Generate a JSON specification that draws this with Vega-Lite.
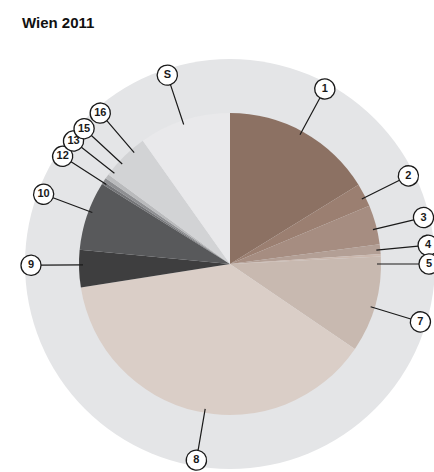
{
  "$schema": "https://vega.github.io/schema/vega-lite/v6.json",
  "width": 408,
  "height": 416,
  "autosize": {"type": "none"},
  "padding": {"left": 26, "top": 56, "right": 0, "bottom": 0},
  "background": "#ffffff",
  "config": {"view": {"stroke": null}},
  "title": {
    "text": "Wien 2011",
    "anchor": "start",
    "frame": "group",
    "font": "Liberation Sans",
    "fontSize": 15,
    "fontWeight": "bold",
    "color": "#111111",
    "offset": 25,
    "dx": -4
  },
  "datasets": {
    "slices": [
      {"id": "1", "ord": 1, "value": 16.2, "lab": 7.9},
      {"id": "2", "ord": 2, "value": 2.5, "lab": 17.7},
      {"id": "3", "ord": 3, "value": 4.2, "lab": 21.25},
      {"id": "4", "ord": 4, "value": 1.05, "lab": 23.5},
      {"id": "5", "ord": 5, "value": 0.25, "lab": 25.0},
      {"id": "7", "ord": 7, "value": 10.3, "lab": 29.7},
      {"id": "8", "ord": 8, "value": 38.0, "lab": 52.7},
      {"id": "9", "ord": 9, "value": 4.0, "lab": 74.9},
      {"id": "10", "ord": 10, "value": 7.4, "lab": 80.7},
      {"id": "12", "ord": 12, "value": 0.3, "lab": 84.1},
      {"id": "13", "ord": 13, "value": 0.4, "lab": 85.6},
      {"id": "15", "ord": 15, "value": 0.5, "lab": 86.9},
      {"id": "16", "ord": 16, "value": 5.1, "lab": 88.7},
      {"id": "S", "ord": 17, "value": 9.8, "lab": 94.9}
    ]
  },
  "layer": [
    {
      "data": {"values": [{"ring": "background"}]},
      "mark": {"type": "arc", "outerRadius": 205, "theta": 0, "theta2": 6.2832, "fill": "#e4e5e7"},
      "encoding": {}
    },
    {
      "data": {"name": "slices"},
      "mark": {"type": "arc", "outerRadius": 151},
      "encoding": {
        "theta": {"field": "value", "type": "quantitative", "stack": true, "scale": {"domain": [0, 100], "nice": false}},
        "order": {"field": "ord", "type": "quantitative"},
        "color": {
          "field": "id", "type": "nominal", "legend": null,
          "scale": {
            "domain": ["1", "2", "3", "4", "5", "7", "8", "9", "10", "12", "13", "15", "16", "S"],
            "range": ["#8c7163", "#9b7f71", "#a68d81", "#b39f95", "#cbb8ae", "#c8b9b0", "#dacec7", "#3e3e3f", "#58595b", "#737477", "#8e8f92", "#b9babc", "#d2d3d5", "#e9e9eb"]
          }
        }
      }
    },
    {
      "data": {"name": "slices"},
      "mark": {"type": "arc", "innerRadius": 147, "outerRadius": 189, "fill": null, "stroke": "#1a1a1a", "strokeWidth": 1.2},
      "encoding": {
        "theta": {"field": "lab", "type": "quantitative", "stack": null, "scale": {"domain": [0, 100], "nice": false}},
        "theta2": {"field": "lab"}
      }
    },
    {
      "data": {"name": "slices"},
      "mark": {"type": "arc", "innerRadius": 189, "outerRadius": 209, "cornerRadius": 10, "thetaOffset": -0.051, "theta2Offset": 0.051, "fill": "#ffffff", "stroke": "#1a1a1a", "strokeWidth": 1.3},
      "encoding": {
        "theta": {"field": "lab", "type": "quantitative", "stack": null, "scale": {"domain": [0, 100], "nice": false}},
        "theta2": {"field": "lab"}
      }
    },
    {
      "data": {"name": "slices"},
      "mark": {"type": "text", "radius": 199, "align": "center", "baseline": "middle", "font": "Liberation Sans", "fontSize": 11, "fontWeight": "bold", "color": "#1a1a1a"},
      "encoding": {
        "theta": {"field": "lab", "type": "quantitative", "stack": null, "scale": {"domain": [0, 100], "nice": false}},
        "text": {"field": "id", "type": "nominal"}
      }
    }
  ]
}
